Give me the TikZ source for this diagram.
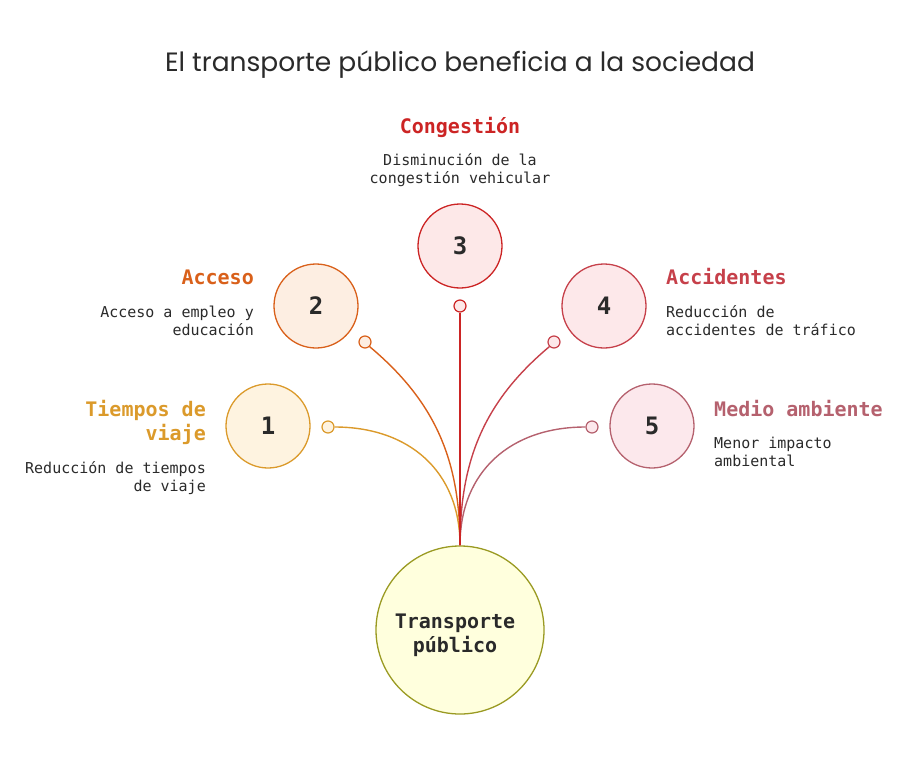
\documentclass[tikz,border=0pt]{standalone}
\usepackage{fontspec}
\setmainfont{DejaVu Sans Mono}
\newfontfamily\titlefont{Poppins}
\usetikzlibrary{positioning}

\definecolor{tiempoC}{HTML}{DB9A2B}
\definecolor{tiempoF}{HTML}{FEF3E0}
\definecolor{accesoC}{HTML}{D9601A}
\definecolor{accesoF}{HTML}{FDEEE2}
\definecolor{congC}{HTML}{CC2424}
\definecolor{congF}{HTML}{FDE8E8}
\definecolor{accC}{HTML}{C6404A}
\definecolor{accF}{HTML}{FDE8EA}
\definecolor{medioC}{HTML}{B5616E}
\definecolor{medioF}{HTML}{FCE8EC}
\definecolor{hubC}{HTML}{9A9A22}
\definecolor{hubF}{HTML}{FFFFDD}
\definecolor{ink}{HTML}{2A2A2A}

\tikzset{
  benefit/.style={circle, draw=#1, line width=1.3pt, minimum size=84pt, inner sep=0pt,
    font=\fontsize{24}{24}\selectfont\bfseries, text=ink},
  dot/.style={circle, draw=#1, line width=1.2pt, minimum size=12pt, inner sep=0pt},
  head/.style={text=#1, inner sep=0pt, font=\fontsize{20}{24}\selectfont\bfseries},
  desc/.style={text=ink, inner sep=0pt, font=\fontsize{15}{18}\selectfont},
  link/.style={draw=#1, line width=1.4pt}
}

\begin{document}
\begin{tikzpicture}[x=1pt, y=-1pt]
			%%%%% START %%%%%
			\useasboundingbox (0, 0) rectangle (912, 762);
			
			\node[text=ink, inner sep=0pt, font=\titlefont\fontsize{26.5}{26.5}\selectfont, anchor=base] (title) at (460, 72) {El transporte público beneficia a la sociedad};
			
			% hub
			\node[circle, draw=hubC, fill=hubF, line width=1.3pt, minimum size=168pt, inner sep=0pt,
			  align=center, text=ink, font=\fontsize{20}{24}\selectfont\bfseries] (hub) at (460, 630) {\rule{0pt}{26pt}\hspace*{-10pt}Transporte\\\hspace*{-10pt}público};
			
			% benefit circles
			\node[benefit=tiempoC, fill=tiempoF] (b1) at (268, 426) {1};
			\node[benefit=accesoC, fill=accesoF] (b2) at (316, 306) {2};
			\node[benefit=congC, fill=congF] (b3) at (460, 246) {3};
			\node[benefit=accC, fill=accF] (b4) at (604, 306) {4};
			\node[benefit=medioC, fill=medioF] (b5) at (652, 426) {5};
			
			% small end dots
			\node[dot=tiempoC, fill=tiempoF] (d1) at (328, 427) {};
			\node[dot=accesoC, fill=accesoF] (d2) at (365, 342) {};
			\node[dot=congC, fill=congF] (d3) at (460, 306) {};
			\node[dot=accC, fill=accF] (d4) at (554, 342) {};
			\node[dot=medioC, fill=medioF] (d5) at (592, 427) {};
			
			% links
			\draw[link=tiempoC] (d1.east) to[out=0, in=90, looseness=1.1] (hub.north);
			\draw[link=medioC] (d5.west) to[out=180, in=90, looseness=1.1] (hub.north);
			\draw[link=accesoC] (d2.-45) to[out=-40, in=90] (hub.north);
			\draw[link=accC] (d4.-135) to[out=-140, in=90] (hub.north);
			\draw[link=congC] (d3.south) -- (hub.north);
			
			% labels (base = last line)
			\node[head=tiempoC, align=right, anchor=base east] (h1) at (206, 440) {Tiempos de\\viaje};
			\node[desc, align=right, anchor=base east] (t1) at (206, 491) {Reducción de tiempos\\de viaje};
			
			\node[head=accesoC, anchor=base east] (h2) at (254, 284) {Acceso};
			\node[desc, align=right, anchor=base east] (t2) at (254, 335) {Acceso a empleo y\\educación};
			
			\node[head=congC, anchor=base] (h3) at (460, 134) {Congestión};
			\node[desc, align=center, anchor=base] (t3) at (460, 184) {Disminución de la\\congestión vehicular};
			
			\node[head=accC, anchor=base west] (h4) at (666, 284) {Accidentes};
			\node[desc, align=left, anchor=base west] (t4) at (666, 335) {Reducción de\\accidentes de tráfico};
			
			\node[head=medioC, anchor=base west] (h5) at (714, 416) {Medio ambiente};
			\node[desc, align=left, anchor=base west] (t5) at (714, 466) {Menor impacto\\ambiental};
			
			%%%%% END %%%%%
		\end{tikzpicture}
\end{document}
